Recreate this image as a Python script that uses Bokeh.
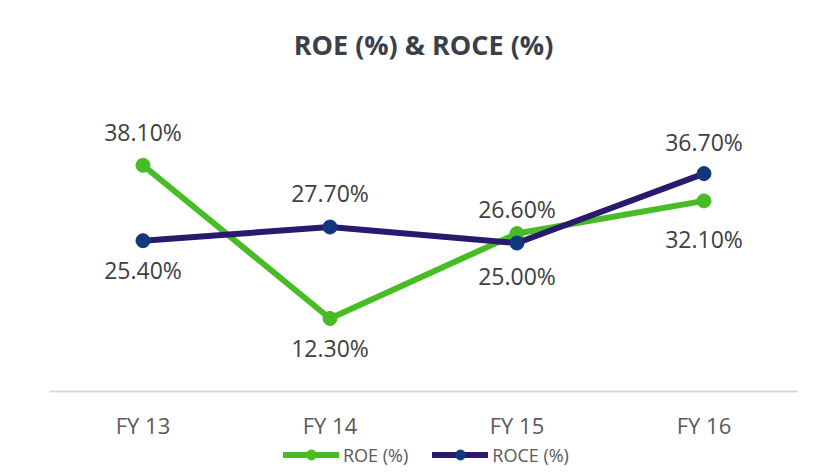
from bokeh.plotting import figure
from bokeh.layouts import column
from bokeh.models import ColumnDataSource, FactorRange, Range1d, Legend, LegendItem
from bokeh.core.properties import value
from bokeh.embed import file_html
from bokeh.resources import INLINE

categories = ["FY 13", "FY 14", "FY 15", "FY 16"]
roe = [38.10, 12.30, 26.60, 32.10]
roce = [25.40, 27.70, 25.00, 36.70]
series_names = ["ROE (%)", "ROCE (%)"]

# label offsets in screen pixels (negative = above the point)
roe_offsets = [-33, 30, -25, 38]
roce_offsets = [29, -34, 33, -32]

FONT = "Open Sans"
GREEN = "#47bc25"
NAVY_LINE = "#2a1a6e"
NAVY_MARK = "#12377e"

p = figure(
    width=816, height=442,
    x_range=FactorRange(*categories, range_padding=0),
    y_range=Range1d(0, 54.4),
    output_backend="svg", toolbar_location=None,
    min_border_left=49, min_border_right=19,
    min_border_top=68, min_border_bottom=50,
)
p.outline_line_color = None
p.background_fill_color = "white"
p.border_fill_color = "white"
p.grid.visible = False
p.yaxis.visible = False

p.title.text = "ROE (%) & ROCE (%)"
p.title.align = "center"
p.title.text_font = FONT
p.title.text_font_size = "27px"
p.title.text_font_style = "bold"
p.title.text_color = "#3a3f4a"
p.title.standoff = 12

xa = p.xaxis[0]
xa.axis_line_color = "#d9d9d9"
xa.axis_line_width = 2
xa.major_tick_line_color = None
xa.minor_tick_line_color = None
xa.major_tick_out = 0
xa.major_label_text_font = FONT
xa.major_label_text_font_size = "22px"
xa.major_label_text_color = "#595959"
xa.major_label_standoff = 18

src_roe = ColumnDataSource(dict(x=categories, y=roe,
                                t=[f"{v:.2f}%" for v in roe], off=roe_offsets))
src_roce = ColumnDataSource(dict(x=categories, y=roce,
                                 t=[f"{v:.2f}%" for v in roce], off=roce_offsets))

p.line("x", "y", source=src_roe, line_color=GREEN, line_width=6)
p.scatter("x", "y", source=src_roe, size=14, fill_color=GREEN, line_color=GREEN)
p.line("x", "y", source=src_roce, line_color=NAVY_LINE, line_width=6)
p.scatter("x", "y", source=src_roce, size=14, fill_color=NAVY_MARK, line_color=NAVY_MARK)

for s in (src_roe, src_roce):
    p.text("x", "y", text="t", source=s, y_offset="off",
           text_align="center", text_baseline="middle",
           text_font=value(FONT), text_font_size="23px", text_color="#404040")

# legend strip below the chart (legend-only renderers sit outside the visible range)
q = figure(
    width=816, height=25,
    x_range=Range1d(0, 1), y_range=Range1d(0, 1),
    output_backend="svg", toolbar_location=None,
    x_axis_location=None, y_axis_location=None,
    min_border=0,
)
q.outline_line_color = None
q.grid.visible = False
q.border_fill_color = "white"

hidden = ColumnDataSource(dict(x=[-10, -11], y=[-10, -11]))
ql1 = q.line("x", "y", source=hidden, line_color=GREEN, line_width=6, line_cap="round")
qm1 = q.scatter("x", "y", source=hidden, size=13, fill_color=GREEN, line_color=GREEN)
ql2 = q.line("x", "y", source=hidden, line_color=NAVY_LINE, line_width=6, line_cap="round")
qm2 = q.scatter("x", "y", source=hidden, size=13, fill_color=NAVY_MARK, line_color=NAVY_MARK)

legend = Legend(
    items=[LegendItem(label=series_names[0], renderers=[ql1, qm1]),
           LegendItem(label=series_names[1], renderers=[ql2, qm2])],
    orientation="horizontal",
    location=(234, 0),
    glyph_width=56, glyph_height=25, label_standoff=4, spacing=24,
    padding=0, margin=0,
    border_line_color=None, background_fill_alpha=0,
    label_text_font=FONT, label_text_font_size="18px", label_text_color="#595959",
)
q.add_layout(legend, "center")

layout = column(p, q, spacing=0)
open("out.html", "w").write(file_html(layout, INLINE))
